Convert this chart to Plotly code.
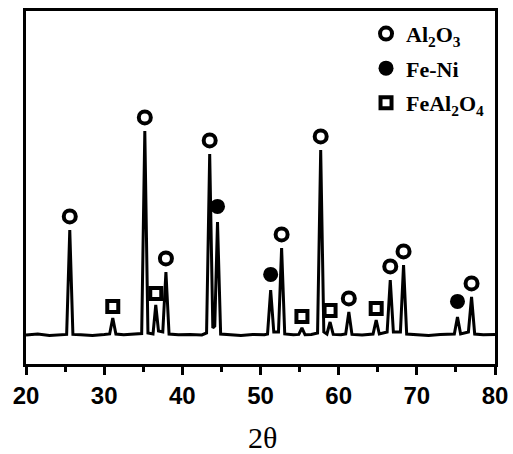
import plotly.graph_objects as go

# XRD profile (2θ in degrees, intensity in arbitrary units)
two_theta = [20.0, 21.5, 23.0, 24.5, 25.2, 25.6, 26.0, 27.0, 28.5, 30.0, 30.7, 31.1, 31.5,
             32.5, 34.0, 34.8, 35.2, 35.6, 36.25, 36.6, 36.95, 37.5, 37.9, 38.3, 39.5,
             41.0, 42.5, 43.1, 43.5, 43.9, 44.15, 44.5, 44.9, 46.0, 47.5, 49.0, 50.5, 50.9,
             51.3, 51.7, 52.3, 52.7, 53.1, 54.2, 54.9, 55.3, 55.7, 56.5, 57.3, 57.7, 58.1,
             58.5, 58.9, 59.3, 60.3, 60.9, 61.3, 61.7, 63.0, 64.4, 64.8, 65.2, 66.2,
             66.6, 67.0, 67.9, 68.3, 68.7, 70.0, 71.5, 73.0, 74.8, 75.2, 75.6, 76.6, 77.0,
             77.4, 78.5, 80.0]
intensity = [145, 150, 143, 147, 148, 670, 148, 146, 143, 147, 150, 230, 150,
             146, 148, 152, 1165, 155, 150, 295, 165, 160, 460, 150, 146,
             148, 145, 155, 1050, 180, 190, 710, 150, 146, 143, 148, 146, 150,
             370, 160, 160, 580, 150, 146, 148, 180, 146, 148, 155, 1070, 160,
             150, 210, 148, 146, 150, 260, 148, 145, 150, 220, 150, 160,
             420, 160, 160, 495, 150, 146, 143, 147, 150, 235, 150, 160, 335,
             150, 146, 147]

# Phase identification: peak positions and peak heights
al2o3_pos = [25.6, 35.2, 37.9, 43.5, 52.7, 57.7, 61.3, 66.6, 68.3, 77.0]
al2o3_h = [670, 1165, 460, 1050, 580, 1070, 260, 420, 495, 335]
feni_pos = [44.5, 51.3, 75.2]
feni_h = [710, 370, 235]
feal2o4_pos = [31.1, 36.6, 55.3, 58.9, 64.8]
feal2o4_h = [230, 295, 180, 210, 220]

legend_names = ["<b>Al<sub>2</sub>O<sub>3</sub></b>", "<b>Fe-Ni</b>",
                "<b>FeAl<sub>2</sub>O<sub>4</sub></b>"]
x_ticks = [20, 30, 40, 50, 60, 70, 80]
x_title = "2θ"

OFFSET = 68  # marker lift above peak top

fig = go.Figure()
fig.add_trace(go.Scatter(x=two_theta, y=intensity, mode="lines",
                         line=dict(color="black", width=3), showlegend=False, hoverinfo="skip"))

fig.add_trace(go.Scatter(x=al2o3_pos, y=[h + OFFSET for h in al2o3_h], mode="markers",
                         name=legend_names[0], legendgroup="a",
                         marker=dict(symbol="circle", size=12, color="white",
                                     line=dict(color="black", width=4))))
fig.add_trace(go.Scatter(x=feni_pos, y=[h + OFFSET + 10 for h in feni_h], mode="markers",
                         name=legend_names[1], legendgroup="b",
                         marker=dict(symbol="circle", size=15, color="black",
                                     line=dict(color="black", width=0))))
fig.add_trace(go.Scatter(x=feal2o4_pos, y=[h + OFFSET - 10 for h in feal2o4_h], mode="markers",
                         name=legend_names[2], legendgroup="c",
                         marker=dict(symbol="square", size=11, color="white",
                                     line=dict(color="black", width=4))))

fig.update_layout(
    width=513, height=454,
    margin=dict(l=26, r=18, t=11, b=90, autoexpand=False),
    paper_bgcolor="white", plot_bgcolor="white",
    showlegend=True,
    legend=dict(x=0.725, y=0.995, xanchor="left", yanchor="top",
                font=dict(family="Liberation Serif", size=22, color="black"),
                bgcolor="rgba(0,0,0,0)", tracegroupgap=3,
                itemwidth=30),
    xaxis=dict(range=[20, 80], tickmode="array", tickvals=x_ticks,
               ticktext=["<b>%d</b>" % t for t in x_ticks],
               ticks="outside", ticklen=8, tickwidth=2.5, tickcolor="black",
               minor=dict(tickmode="linear", tick0=25, dtick=10, ticks="outside",
                          ticklen=5, tickwidth=2.5, tickcolor="black"),
               showline=True, linecolor="black", linewidth=2.5, mirror=True,
               showgrid=False, zeroline=False, automargin=False,
               tickfont=dict(family="Liberation Sans", size=24, color="black")),
    yaxis=dict(range=[0, 1765], showticklabels=False, ticks="",
               showline=True, linecolor="black", linewidth=2.5, mirror=True,
               showgrid=False, zeroline=False, automargin=False),
    annotations=[dict(text=x_title, xref="paper", yref="paper", x=0.505, y=-0.208,
                      xanchor="center", yanchor="middle", showarrow=False,
                      font=dict(family="Liberation Serif", size=30, color="black"))],
)

fig.write_html("out.html", config={"displayModeBar": False},
               post_script="document.body.style.margin='0';document.body.style.overflow='hidden';")
